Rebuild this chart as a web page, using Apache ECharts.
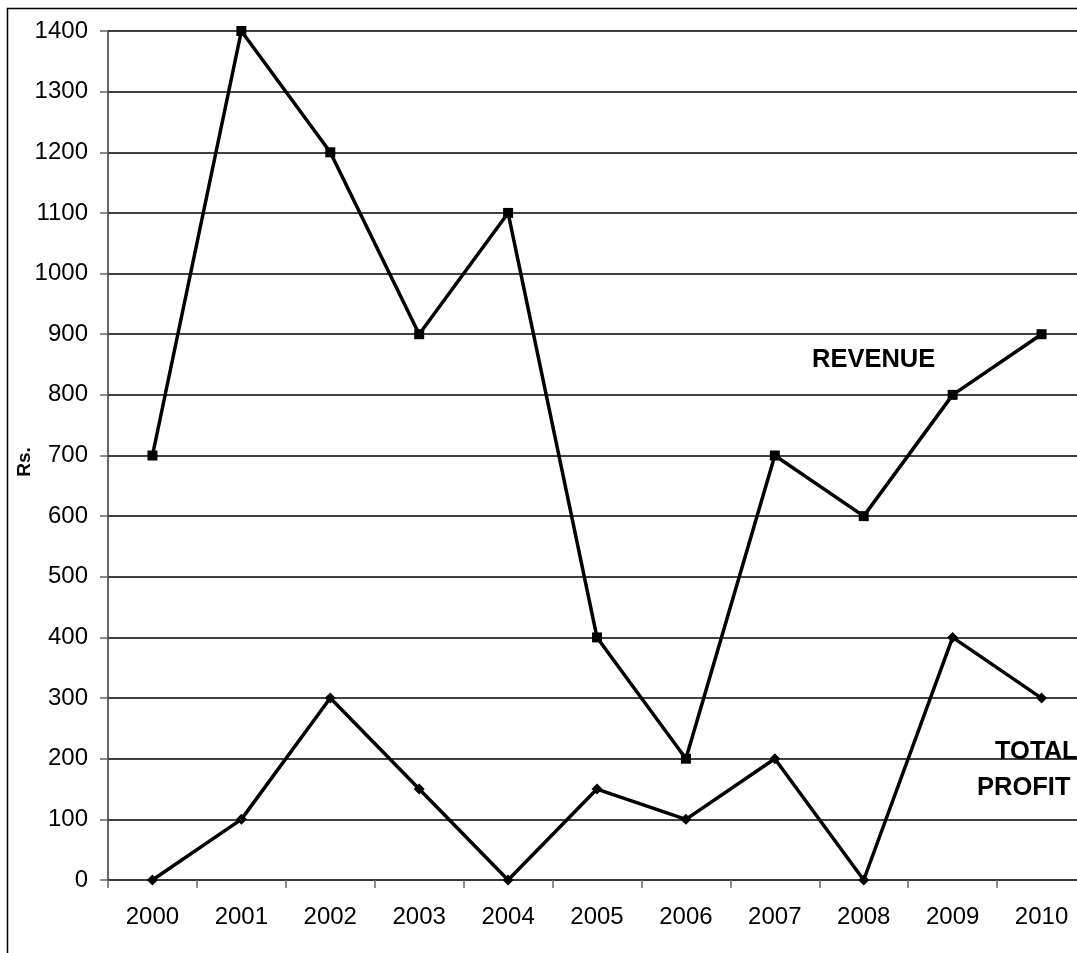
<!DOCTYPE html>
<html><head><meta charset="utf-8">
<script src="https://cdn.jsdelivr.net/npm/echarts@6/dist/echarts.min.js"></script>
<style>html,body{margin:0;padding:0;background:#fff}#c{width:1077px;height:953px}</style>
</head><body><div id="c"></div>
<script>
const years = ['2000','2001','2002','2003','2004','2005','2006','2007','2008','2009','2010'];
const revenue = [700,1400,1200,900,1100,400,200,700,600,800,900];
const totalProfit = [0,100,300,150,0,150,100,200,0,400,300];
const yTicks = {min:0, max:1400, interval:100};
const yTitle = 'Rs.';

const FONT = 'Liberation Sans, Arial, sans-serif';
const chart = echarts.init(document.getElementById('c'));
chart.setOption({
  animation:false,
  backgroundColor:'#fff',
  grid:{left:108, top:31, width:978, height:849, containLabel:false, outerBoundsMode:'none'},
  xAxis:{
    type:'category', data:years, boundaryGap:true,
    axisLine:{lineStyle:{color:'#333', width:1.5}},
    axisTick:{show:true, length:8, lineStyle:{color:'#666', width:1.5}},
    axisLabel:{color:'#000', fontSize:24, fontFamily:FONT, margin:25}
  },
  yAxis:{
    type:'value', min:yTicks.min, max:yTicks.max, interval:yTicks.interval,
    axisLine:{show:true, lineStyle:{color:'#333', width:1.5}},
    axisTick:{show:true, length:8, lineStyle:{color:'#666', width:1.5}},
    axisLabel:{color:'#000', fontSize:24, fontFamily:FONT, margin:20, formatter:v=>String(v)},
    splitLine:{show:true, lineStyle:{color:'#000', width:1.5}}
  },
  graphic:[
    {type:'rect', shape:{x:7.5, y:8.5, width:1200, height:1200}, style:{fill:'none', stroke:'#000', lineWidth:1.5}, z:-1},
    {type:'text', x:25, y:462, rotation:Math.PI/2, style:{text:yTitle, fill:'#000', font:'bold 19px '+FONT, align:'center', verticalAlign:'middle'}},
    {type:'text', x:812, y:360, style:{text:'REVENUE', fill:'#000', font:'bold 25.5px '+FONT, verticalAlign:'middle'}},
    {type:'text', x:995, y:752, style:{text:'TOTAL', fill:'#000', font:'bold 25.5px '+FONT, verticalAlign:'middle'}},
    {type:'text', x:977, y:788, style:{text:'PROFIT', fill:'#000', font:'bold 25.5px '+FONT, verticalAlign:'middle'}}
  ],
  series:[
    {name:'REVENUE', type:'line', data:revenue, symbol:'rect', symbolSize:10,
     lineStyle:{color:'#000', width:3.5}, itemStyle:{color:'#000'}},
    {name:'TOTAL PROFIT', type:'line', data:totalProfit, symbol:'diamond', symbolSize:11,
     lineStyle:{color:'#000', width:3.5}, itemStyle:{color:'#000'}}
  ]
});
</script></body></html>
